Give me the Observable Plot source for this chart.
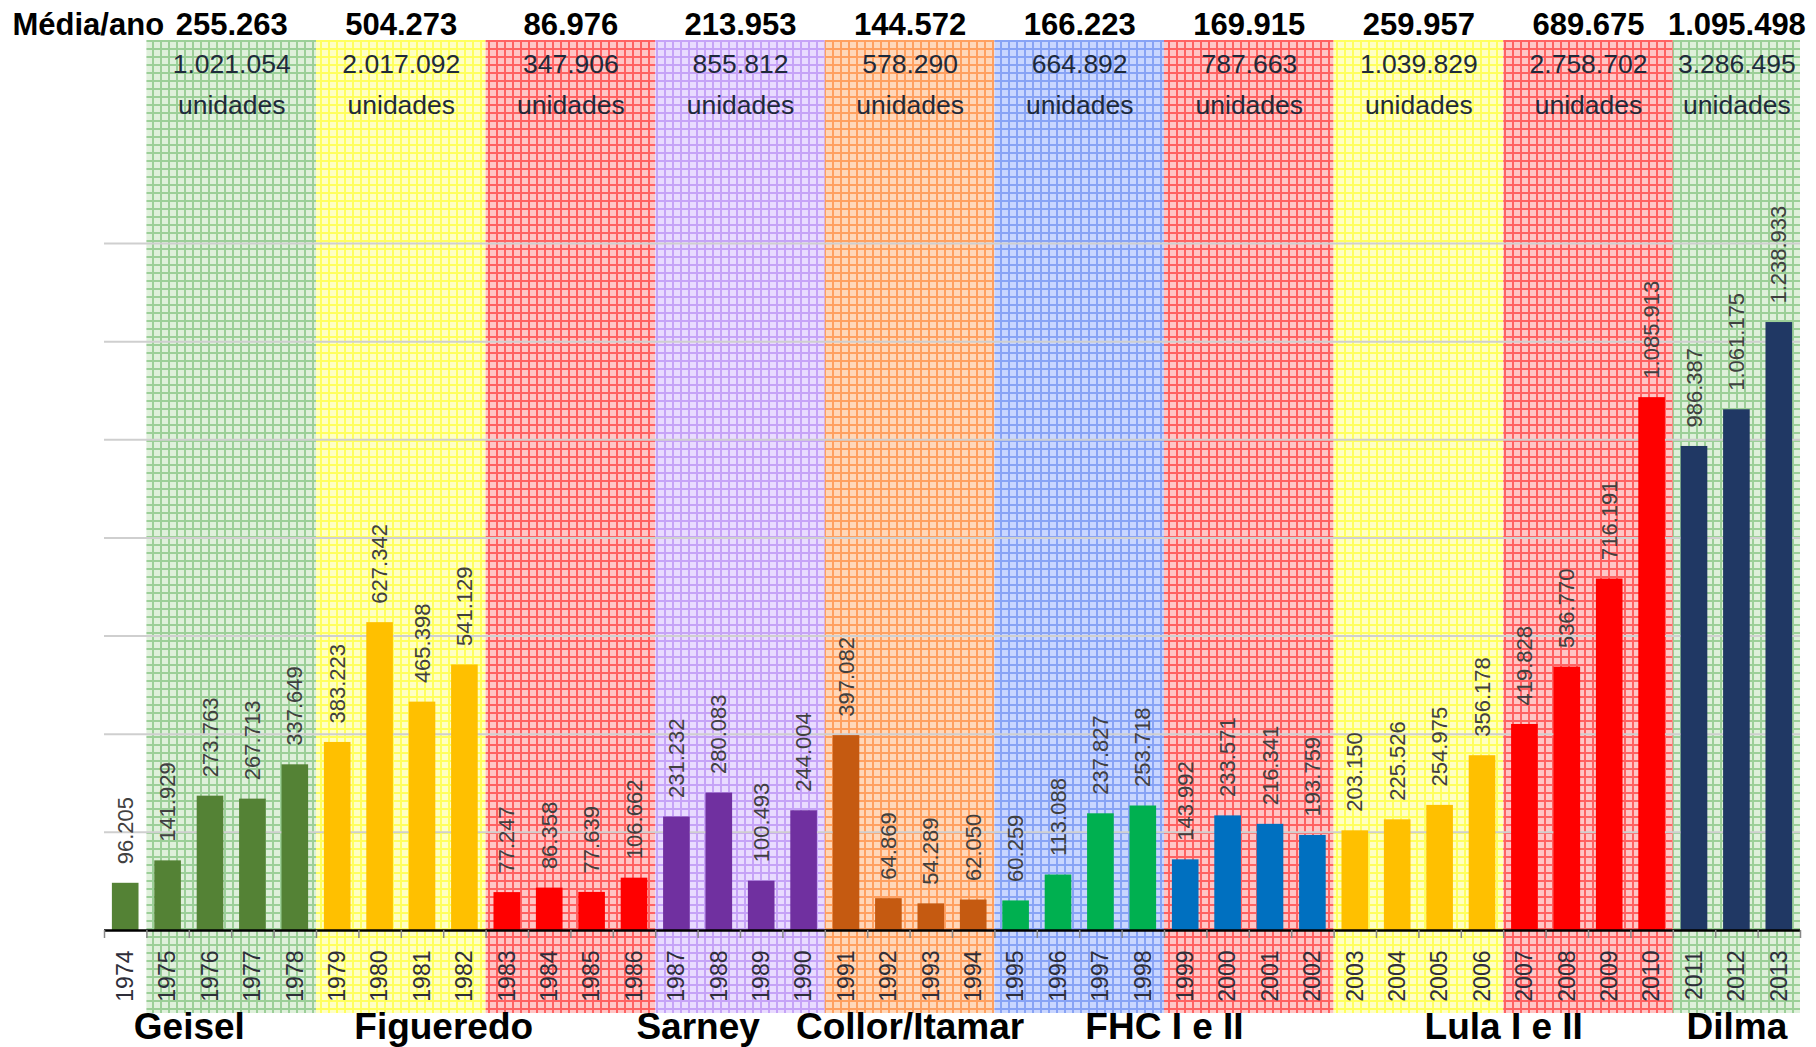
<!DOCTYPE html>
<html>
<head>
<meta charset="utf-8">
<script src="https://cdn.jsdelivr.net/npm/d3@7"></script>
<script src="https://cdn.jsdelivr.net/npm/@observablehq/plot@0.6"></script>
<style>
  html, body { margin: 0; padding: 0; background: #fff; }
  #chart svg { display: block; }
</style>
</head>
<body>
<div id="chart"></div>
<script>
// ---------------- DATA ----------------
const years = [1974, 1975, 1976, 1977, 1978, 1979, 1980, 1981, 1982, 1983,
               1984, 1985, 1986, 1987, 1988, 1989, 1990, 1991, 1992, 1993,
               1994, 1995, 1996, 1997, 1998, 1999, 2000, 2001, 2002, 2003,
               2004, 2005, 2006, 2007, 2008, 2009, 2010, 2011, 2012, 2013];
const sales = [96205, 141929, 273763, 267713, 337649, 383223, 627342, 465398, 541129, 77247,
               86358, 77639, 106662, 231232, 280083, 100493, 244004, 397082, 64869, 54289,
               62050, 60259, 113088, 237827, 253718, 143992, 233571, 216341, 193759, 203150,
               225526, 254975, 356178, 419828, 536770, 716191, 1085913, 986387, 1061175, 1238933];

const periodStart = [1975, 1979, 1983, 1987, 1991, 1995, 1999, 2003, 2007, 2011];
const periodEnd   = [1978, 1982, 1986, 1990, 1994, 1998, 2002, 2006, 2010, 2013];
const periodAvg   = [255263, 504273, 86976, 213953, 144572, 166223, 169915, 259957, 689675, 1095498];
const periodTotal = [1021054, 2017092, 347906, 855812, 578290, 664892, 787663, 1039829, 2758702, 3286495];

const presNames = ["Geisel", "Figueredo", "Sarney", "Collor/Itamar", "FHC I e II", "Lula I e II", "Dilma"];
const presFrom  = [1974, 1979, 1985, 1990, 1995, 2003, 2011];
const presTo    = [1977, 1984, 1990, 1995, 2002, 2010, 2013];

const gridTicks = [200000, 400000, 600000, 800000, 1000000, 1200000, 1400000];
const avgLabel = "Média/ano";
const unitLabel = "unidades";

// ---------------- STYLE ----------------
const periodTheme = ["green", "yellow", "red", "purple", "orange", "blue", "red", "yellow", "red", "green"];
const barPalette  = ["#548235", "#ffc000", "#ff0000", "#7030a0", "#c55a11", "#00b050", "#0070c0", "#ffc000", "#ff0000", "#203864"];
const patterns = {
  green:  {base: "#dff0db", line: "#9ccf98"},
  yellow: {base: "#ffffc4", line: "#ffff5e"},
  red:    {base: "#ffc6c6", line: "#ff6262"},
  purple: {base: "#e9dbff", line: "#c6a3f7"},
  orange: {base: "#ffd7b9", line: "#ffa060"},
  blue:   {base: "#c9d6ff", line: "#88a3f5"}
};
const PITCH = 8;
const BAR_HALF = 0.314;
const FONT = "'Liberation Sans', Arial, sans-serif";

// ---------------- BUILD ----------------
const fmt = d3.formatLocale({decimal: ",", thousands: ".", grouping: [3], currency: ["", ""]}).format(",d");

function periodOf(y) {
  let idx = 0;
  for (let i = 0; i < periodStart.length; i++) if (periodStart[i] <= y) idx = i;
  return idx;
}

const bars = years.map((y, i) => ({year: y, value: sales[i], p: periodOf(y)}));
const periods = periodStart.map((s, i) => ({i, start: s, end: periodEnd[i], avg: periodAvg[i], total: periodTotal[i]}));
const pres = presNames.map((n, i) => ({name: n, from: presFrom[i], to: presTo[i]}));
const boundaries = years.map(y => y - 0.5).concat([years[years.length - 1] + 0.5]);

const chart = Plot.plot({
  width: 1816,
  height: 1047,
  marginLeft: 104,
  marginRight: 16,
  marginTop: 40,
  marginBottom: 117,
  x: {type: "linear", domain: [1973.5, 2013.5], axis: null},
  y: {domain: [0, 1813700], axis: null},
  color: {type: "identity"},
  style: {fontFamily: FONT, background: "white", overflow: "visible"},
  marks: [
    // period background bands with grid pattern
    Plot.rect(periods, {
      x1: d => d.start - 0.5, x2: d => d.end + 0.5,
      fill: d => `url(#pat-${periodTheme[d.i]})`,
      insetBottom: -83
    }),
    // gridlines
    Plot.ruleY(gridTicks, {stroke: "#cfcfcf", strokeWidth: 2}),
    // bars
    Plot.rectY(bars, {
      x1: d => d.year - BAR_HALF, x2: d => d.year + BAR_HALF,
      y1: 0, y2: "value",
      fill: d => barPalette[d.p]
    }),
    // baseline axis
    Plot.ruleY([0], {stroke: "#000", strokeWidth: 2.5}),
    // tick marks between years
    Plot.ruleX(boundaries, {x: d => d, y1: 0, y2: 0, insetBottom: -8, stroke: "#888", strokeWidth: 1.5}),
    // year labels
    Plot.text(years, {
      x: d => d, text: d => String(d), frameAnchor: "bottom", lineAnchor: "middle",
      rotate: -90, textAnchor: "end", dy: 20,
      fontSize: 23, fill: "#2e2e3a"
    }),
    // value labels
    Plot.text(bars, {
      x: "year", y: "value", text: d => fmt(d.value), lineAnchor: "middle",
      rotate: -90, textAnchor: "start", dy: -19,
      fontSize: 22, fill: "#404040"
    }),
    // top row: yearly averages
    Plot.text([avgLabel], {
      frameAnchor: "top-left", text: d => d, textAnchor: "start", lineAnchor: "middle",
      dx: -92, dy: -15, fontSize: 31, fontWeight: "bold", fill: "#000"
    }),
    Plot.text(periods, {
      x: d => (d.start + d.end) / 2, frameAnchor: "top", lineAnchor: "middle", text: d => fmt(d.avg),
      dy: -15, fontSize: 31, fontWeight: "bold", fill: "#000"
    }),
    // totals
    Plot.text(periods, {
      x: d => (d.start + d.end) / 2, frameAnchor: "top", lineAnchor: "middle", text: d => fmt(d.total),
      dy: 24, fontSize: 26.5, fill: "#1e2a3a"
    }),
    Plot.text(periods, {
      x: d => (d.start + d.end) / 2, frameAnchor: "top", lineAnchor: "middle", text: () => unitLabel,
      dy: 65, fontSize: 26.5, fill: "#1e2a3a"
    }),
    // presidents
    Plot.text(pres, {
      x: d => (d.from + d.to) / 2, frameAnchor: "bottom", lineAnchor: "middle", text: "name",
      dy: 97, fontSize: 37, fontWeight: "bold", fill: "#000"
    })
  ]
});

// grid-paper patterns for the bands
const defs = d3.select(chart).insert("defs", ":first-child");
for (const [k, c] of Object.entries(patterns)) {
  const p = defs.append("pattern")
    .attr("id", "pat-" + k)
    .attr("patternUnits", "userSpaceOnUse")
    .attr("width", PITCH).attr("height", PITCH);
  p.append("rect").attr("width", PITCH).attr("height", PITCH).attr("fill", c.base);
  p.append("path").attr("d", `M0,1H${PITCH}M1,0V${PITCH}`)
    .attr("stroke", c.line).attr("stroke-width", 2).attr("fill", "none");
}

document.getElementById("chart").appendChild(chart);
</script>
</body>
</html>
